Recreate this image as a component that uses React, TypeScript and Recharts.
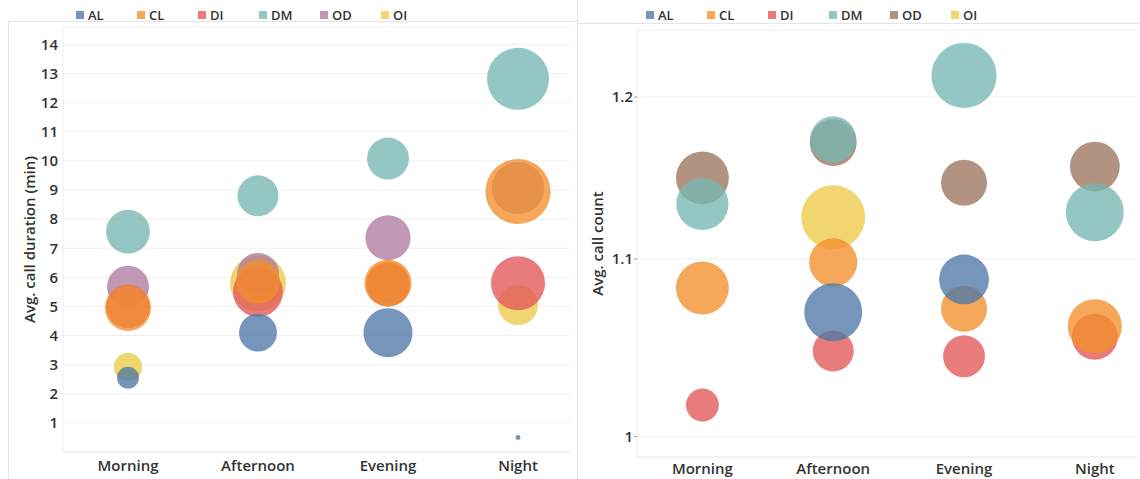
import React from "react";
import {
  ScatterChart,
  Scatter,
  XAxis,
  YAxis,
  ZAxis,
  CartesianGrid,
} from "recharts";

const PERIODS = ["Morning", "Afternoon", "Evening", "Night"];
const SERIES = ["AL", "CL", "DI", "DM", "OD", "OI"];
// draw order (later = on top)
const DRAW_ORDER = ["OI", "OD", "DI", "CL", "AL", "DM"];

// Avg. call duration (min), Morning..Night
const durationAL = [2.55, 4.1, 4.1, 0.5];
const durationCL = [4.95, 5.85, 5.8, 8.95];
const durationDI = [5.0, 5.5, 5.75, 5.8];
const durationDM = [7.57, 8.8, 10.08, 12.82];
const durationOD = [5.68, 6.12, 7.36, 9.07];
const durationOI = [2.92, 5.8, 5.85, 5.05];

// bubble weight for the duration panel
const durationSizeAL = [12, 36, 60, 0.6];
const durationSizeCL = [53, 48, 55, 106];
const durationSizeDI = [48, 62, 48, 73];
const durationSizeDM = [48, 42, 44, 96];
const durationSizeOD = [44, 44, 51, 68];
const durationSizeOI = [20, 78, 44, 40];

// Avg. call count, Morning..Night (null = not shown)
const countAL = [null, 1.069, 1.088, null];
const countCL = [1.083, 1.098, 1.071, 1.061];
const countDI = [1.017, 1.047, 1.044, 1.055];
const countDM = [1.133, 1.173, 1.214, 1.128];
const countOD = [1.149, 1.171, 1.146, 1.156];
const countOI = [null, 1.125, null, null];

// bubble weight for the count panel
const countSizeAL = [0, 84, 62, 0];
const countSizeCL = [70, 58, 53, 73];
const countSizeDI = [27, 42, 44, 53];
const countSizeDM = [68, 53, 106, 84];
const countSizeOD = [70, 55, 53, 62];
const countSizeOI = [0, 102, 0, 0];

const durationTicks = [1, 2, 3, 4, 5, 6, 7, 8, 9, 10, 11, 12, 13, 14];
const countTicks = [1, 1.1, 1.2];

const LEFT_COLORS: Record<string, string> = {
  AL: "#4E79A7",
  CL: "#F28E2B",
  DI: "#E15759",
  DM: "#76B7B2",
  OD: "#B07AA1",
  OI: "#EDC948",
};
const RIGHT_COLORS: Record<string, string> = { ...LEFT_COLORS, OD: "#9C755F" };

const durationValues: Record<string, number[]> = {
  AL: durationAL, CL: durationCL, DI: durationDI, DM: durationDM, OD: durationOD, OI: durationOI,
};
const durationSizes: Record<string, number[]> = {
  AL: durationSizeAL, CL: durationSizeCL, DI: durationSizeDI, DM: durationSizeDM, OD: durationSizeOD, OI: durationSizeOI,
};
const countValues: Record<string, (number | null)[]> = {
  AL: countAL, CL: countCL, DI: countDI, DM: countDM, OD: countOD, OI: countOI,
};
const countSizes: Record<string, number[]> = {
  AL: countSizeAL, CL: countSizeCL, DI: countSizeDI, DM: countSizeDM, OD: countSizeOD, OI: countSizeOI,
};

const toPoints = (values: (number | null)[], sizes: number[]) =>
  values
    .map((y, i) => ({ x: i, y, z: sizes[i] }))
    .filter((p) => p.y !== null);

const FONT = "'Open Sans', 'Noto Sans', sans-serif";
const OPACITY = 0.78;
const tickStyle = { fill: "#333", fontSize: 15, fontFamily: FONT, fontWeight: 600 };
const labelStyle = { fill: "#333", fontSize: 15, fontFamily: FONT, fontWeight: 600 };

function LegendRow({ left, colors }: { left: number; colors: Record<string, string> }) {
  return (
    <>
      {SERIES.map((s, i) => (
        <div
          key={s}
          style={{
            position: "absolute",
            left: left + i * 61,
            top: 7,
            display: "flex",
            alignItems: "center",
            fontFamily: FONT,
            fontSize: 13,
            fontWeight: 600,
            color: "#333",
            lineHeight: "16px",
          }}
        >
          <span
            style={{
              display: "inline-block",
              width: 8,
              height: 8,
              background: colors[s],
              opacity: OPACITY,
              marginRight: 4,
            }}
          />
          {s}
        </div>
      ))}
    </>
  );
}

export default function App() {
  return (
    <div
      style={{
        position: "absolute",
        left: 0,
        top: 0,
        width: 1140,
        height: 479,
        background: "#fff",
        overflow: "hidden",
        fontFamily: FONT,
      }}
    >
      {/* frame lines */}
      <div style={{ position: "absolute", left: 8, top: 21, width: 569, height: 1, background: "#e4e4e4" }} />
      <div style={{ position: "absolute", left: 577, top: 23, width: 563, height: 1, background: "#e4e4e4" }} />
      <div style={{ position: "absolute", left: 8, top: 21, width: 1, height: 458, background: "#e4e4e4" }} />
      <div style={{ position: "absolute", left: 577, top: 0, width: 1, height: 479, background: "#e4e4e4" }} />

      <LegendRow left={76} colors={LEFT_COLORS} />
      <LegendRow left={646} colors={RIGHT_COLORS} />

      <div style={{ position: "absolute", left: 0, top: 0 }}>
        <ScatterChart
          width={577}
          height={479}
          margin={{ top: 27, right: 7, bottom: 0, left: 0 }}
        >
          <CartesianGrid vertical={false} stroke="#f0f0f0" />
          <XAxis
            type="number"
            dataKey="x"
            domain={[-0.5, 3.4]}
            ticks={[0, 1, 2, 3]}
            tickFormatter={(v) => PERIODS[v]}
            allowDataOverflow
            height={27}
            tickLine={false}
            axisLine={{ stroke: "#eeeeee" }}
            tick={tickStyle}
          />
          <YAxis
            type="number"
            dataKey="y"
            domain={[0, 14.6]}
            ticks={durationTicks}
            allowDataOverflow
            width={63}
            tickLine={false}
            tickSize={3}
            tickMargin={2}
            axisLine={{ stroke: "#eeeeee" }}
            tick={tickStyle}
            label={{
              value: "Avg. call duration (min)",
              angle: -90,
              position: "center",
              dx: -2,
              style: labelStyle,
            }}
          />
          <ZAxis type="number" dataKey="z" domain={[0, 120]} range={[0, 3770]} />
          {DRAW_ORDER.map((s) => (
            <Scatter
              key={s}
              name={s}
              data={toPoints(durationValues[s], durationSizes[s])}
              fill={LEFT_COLORS[s]}
              fillOpacity={OPACITY}
              isAnimationActive={false}
            />
          ))}
        </ScatterChart>
      </div>

      <div style={{ position: "absolute", left: 577, top: 0 }}>
        <ScatterChart
          width={563}
          height={479}
          margin={{ top: 30, right: 2, bottom: 0, left: 0 }}
        >
          <CartesianGrid vertical={false} stroke="#f0f0f0" />
          <XAxis
            type="number"
            dataKey="x"
            domain={[-0.5, 3.33]}
            ticks={[0, 1, 2, 3]}
            tickFormatter={(v) => PERIODS[v]}
            allowDataOverflow
            height={22}
            tickLine={false}
            tickSize={4}
            axisLine={{ stroke: "#eeeeee" }}
            tick={tickStyle}
          />
          <YAxis
            type="number"
            dataKey="y"
            scale="log"
            domain={[0.989, 1.244]}
            ticks={countTicks}
            allowDataOverflow
            width={60}
            tickSize={3}
            tickMargin={1}
            tickLine={{ stroke: "#999" }}
            axisLine={{ stroke: "#eeeeee" }}
            tick={tickStyle}
            label={{
              value: "Avg. call count",
              angle: -90,
              position: "center",
              dx: -9,
              style: labelStyle,
            }}
          />
          <ZAxis type="number" dataKey="z" domain={[0, 120]} range={[0, 3770]} />
          {DRAW_ORDER.map((s) => (
            <Scatter
              key={s}
              name={s}
              data={toPoints(countValues[s], countSizes[s])}
              fill={RIGHT_COLORS[s]}
              fillOpacity={OPACITY}
              isAnimationActive={false}
            />
          ))}
        </ScatterChart>
      </div>
    </div>
  );
}
